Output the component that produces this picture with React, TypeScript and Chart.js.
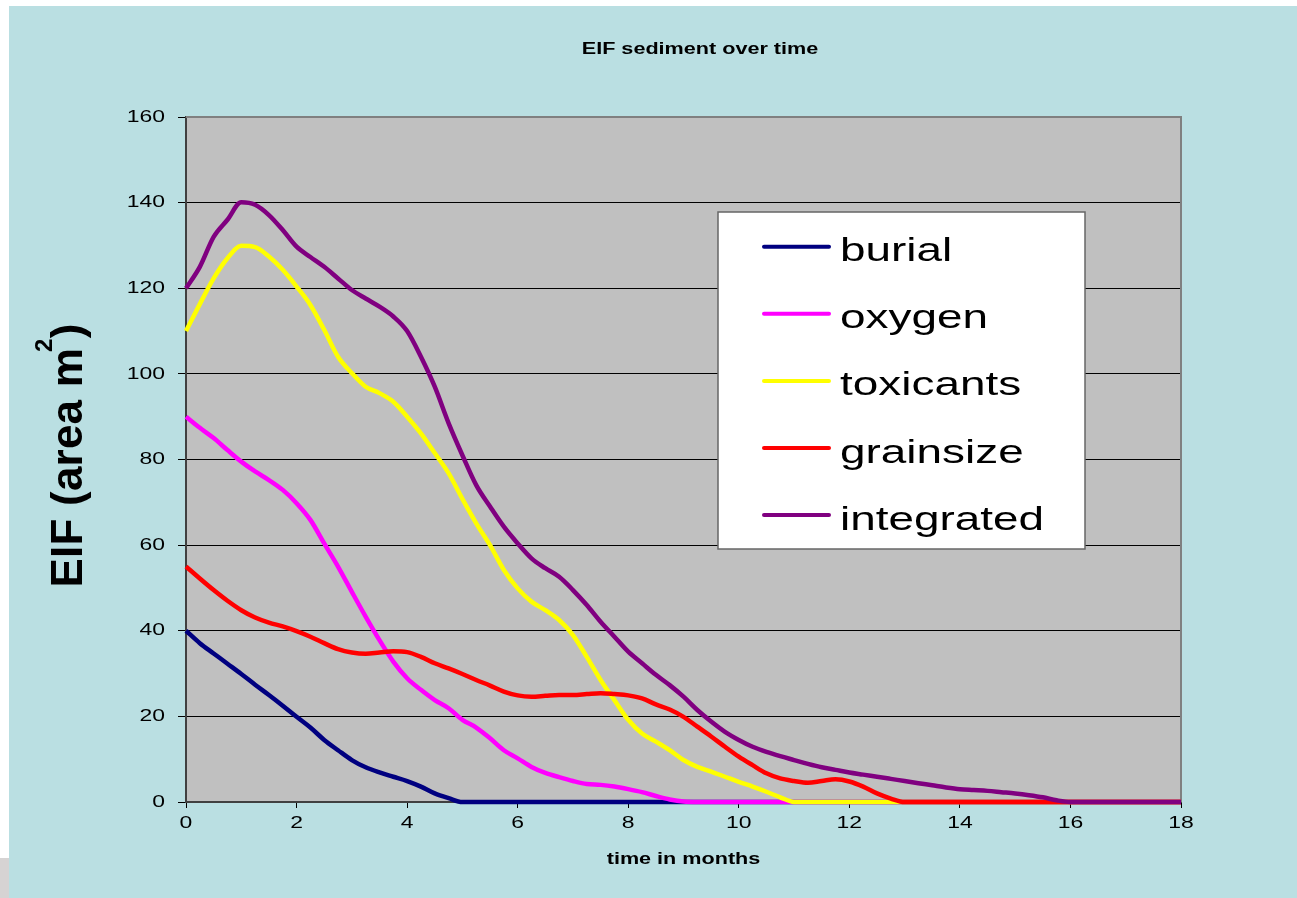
import React, { useEffect, useRef } from 'react';
import { Chart, registerables } from 'chart.js';

Chart.register(...registerables);

const title = 'EIF sediment over time';
const xTitle = 'time in months';
const yTitleMain = 'EIF (area m';
const yTitleSup = '2';
const yTitleEnd = ')';

const xTicks = [0, 2, 4, 6, 8, 10, 12, 14, 16, 18];
const yTicks = [0, 20, 40, 60, 80, 100, 120, 140, 160];

const months = [
  0, 0.25, 0.5, 0.75,
  1, 1.25, 1.5, 1.75,
  2, 2.25, 2.5, 2.75,
  3, 3.25, 3.5, 3.75,
  4, 4.25, 4.5, 4.75,
  5, 5.25, 5.5, 5.75,
  6, 6.25, 6.5, 6.75,
  7, 7.25, 7.5, 7.75,
  8, 8.25, 8.5, 8.75,
  9, 9.25, 9.5, 9.75,
  10, 10.25, 10.5, 10.75,
  11, 11.25, 11.5, 11.75,
  12, 12.25, 12.5, 12.75,
  13, 13.25, 13.5, 13.75,
  14, 14.25, 14.5, 14.75,
  15, 15.25, 15.5, 15.75,
  16, 16.25, 16.5, 16.75,
  17, 17.25, 17.5, 17.75,
  18,
];

const burial = [
  40, 37.1, 34.7, 32.3,
  29.9, 27.4, 25, 22.5,
  19.9, 17.4, 14.5, 12.1,
  9.8, 8.1, 6.9, 5.9,
  4.9, 3.6, 2.0, 0.9,
  0, 0, 0, 0,
  0, 0, 0, 0,
  0, 0, 0, 0,
  0, 0, 0, 0,
  0, 0, 0, 0,
  0, 0, 0, 0,
  0, 0, 0, 0,
  0, 0, 0, 0,
  0, 0, 0, 0,
  0, 0, 0, 0,
  0, 0, 0, 0,
  0, 0, 0, 0,
  0, 0, 0, 0,
  0,
];

const oxygen = [
  90, 87.4, 85, 82.2,
  79.5, 77.2, 75.2, 72.9,
  69.8, 65.9, 60.4, 55,
  49.1, 43.3, 37.8, 32.8,
  28.9, 26.2, 23.8, 21.9,
  19.2, 17.4, 14.9, 12.1,
  10.2, 8.2, 6.8, 5.8,
  4.9, 4.2, 4.0, 3.6,
  3.0, 2.3, 1.4, 0.6,
  0.1, 0, 0, 0,
  0, 0, 0, 0,
  0, 0, 0, 0,
  0, 0, 0, 0,
  0, 0, 0, 0,
  0, 0, 0, 0,
  0, 0, 0, 0,
  0, 0, 0, 0,
  0, 0, 0, 0,
  0,
];

const toxicants = [
  110, 116.3, 122.3, 127,
  129.9, 129.6, 127.4, 124.3,
  120.4, 116.1, 110.3, 104,
  100.2, 97, 95.5, 93.5,
  90, 86.1, 81.5, 76.8,
  70.8, 65.1, 60, 54.2,
  49.9, 46.8, 44.8, 42.5,
  39, 33.9, 28.5, 23.8,
  19.2, 16, 14.1, 12.1,
  9.8, 8.2, 7.1, 5.9,
  4.7, 3.6, 2.4, 1.1,
  0, 0, 0, 0,
  0, 0, 0, 0,
  0, 0, 0, 0,
  0, 0, 0, 0,
  0, 0, 0, 0,
  0, 0, 0, 0,
  0, 0, 0, 0,
  0,
];

const grainsize = [
  55, 52.2, 49.5, 47,
  44.8, 43.1, 41.9, 41,
  39.9, 38.6, 37.1, 35.7,
  34.9, 34.6, 34.9, 35.2,
  35, 33.9, 32.4, 31.2,
  29.9, 28.5, 27.2, 25.8,
  24.9, 24.6, 24.8, 25,
  25, 25.2, 25.4, 25.2,
  24.9, 24.2, 22.8, 21.6,
  19.9, 17.6, 15.3, 12.9,
  10.6, 8.6, 6.7, 5.5,
  4.9, 4.5, 4.9, 5.3,
  4.8, 3.6, 2.0, 0.8,
  0, 0, 0, 0,
  0, 0, 0, 0,
  0, 0, 0, 0,
  0, 0, 0, 0,
  0, 0, 0, 0,
  0,
];

const integrated = [
  120, 125, 132, 136,
  140.1, 139.5, 137.1, 133.6,
  129.7, 127.3, 125, 122.3,
  119.6, 117.6, 115.7, 113.4,
  110, 104, 97, 88.5,
  81, 74, 69, 64.3,
  60.4, 56.9, 54.6, 52.6,
  49.5, 46, 42.1, 38.6,
  35.1, 32.4, 29.7, 27.3,
  24.6, 21.5, 18.8, 16.4,
  14.5, 12.9, 11.7, 10.7,
  9.8, 8.9, 8.1, 7.5,
  6.9, 6.4, 5.9, 5.4,
  4.9, 4.4, 3.9, 3.4,
  3.0, 2.8, 2.6, 2.3,
  2.0, 1.6, 1.1, 0.4,
  0, 0, 0, 0,
  0, 0, 0, 0,
  0,
];

const seriesNames = ['burial', 'oxygen', 'toxicants', 'grainsize', 'integrated'];
const seriesValues = [burial, oxygen, toxicants, grainsize, integrated];
const seriesColors = ['#000080', '#ff00ff', '#ffff00', '#ff0000', '#800080'];
const seriesOrder = [4, 3, 2, 1, 0];

const FONT = '"Liberation Sans", Arial, Helvetica, sans-serif';
const SX = 1.35;
const PAGE_BG = '#badfe2';
const PLOT_BG = '#c0c0c0';

function stretchedText(ctx: CanvasRenderingContext2D, text: string, x: number, y: number,
  align: CanvasTextAlign, baseline: CanvasTextBaseline, font: string) {
  ctx.save();
  ctx.font = font;
  ctx.textAlign = align;
  ctx.textBaseline = baseline;
  ctx.fillStyle = '#000';
  ctx.translate(x, y);
  ctx.scale(SX, 1);
  ctx.fillText(text, 0, 0);
  ctx.restore();
}

const decorPlugin = {
  id: 'decor',
  beforeDraw(chart: any) {
    const { ctx, chartArea: a, width, height } = chart;
    ctx.save();
    ctx.fillStyle = PAGE_BG;
    ctx.fillRect(0, 0, width, height);
    ctx.fillStyle = PLOT_BG;
    ctx.fillRect(a.left, a.top, a.right - a.left, a.bottom - a.top);
    ctx.restore();
  },
  beforeDatasetsDraw(chart: any) {
    const { ctx, chartArea: a } = chart;
    ctx.save();
    ctx.strokeStyle = '#808080';
    ctx.lineWidth = 2;
    ctx.beginPath();
    ctx.moveTo(a.left, a.top);
    ctx.lineTo(a.right, a.top);
    ctx.lineTo(a.right, a.bottom);
    ctx.stroke();
    ctx.restore();
  },
  afterDraw(chart: any) {
    const { ctx, chartArea: a } = chart;
    const xs = chart.scales.x;
    const ys = chart.scales.y;

    yTicks.forEach((v) => {
      stretchedText(ctx, String(v), a.left - 21, ys.getPixelForValue(v), 'right', 'middle', `17px ${FONT}`);
    });
    xTicks.forEach((v) => {
      stretchedText(ctx, String(v), xs.getPixelForValue(v), a.bottom + 21, 'center', 'middle', `17px ${FONT}`);
    });

    stretchedText(ctx, title, 691, 44, 'center', 'middle', `bold 16px ${FONT}`);
    stretchedText(ctx, xTitle, (a.left + a.right) / 2, a.bottom + 58, 'center', 'middle', `bold 16px ${FONT}`);

    ctx.save();
    ctx.fillStyle = '#000';
    ctx.translate(57, (a.top + a.bottom) / 2 - 6);
    ctx.rotate(-Math.PI / 2);
    const mainFont = `bold 44px ${FONT}`;
    const supFont = `bold 24px ${FONT}`;
    ctx.font = mainFont;
    const wMain = ctx.measureText(yTitleMain).width;
    const wEnd = ctx.measureText(yTitleEnd).width;
    ctx.font = supFont;
    const wSup = ctx.measureText(yTitleSup).width;
    const target = 268;
    const nChars = yTitleMain.length + yTitleSup.length + yTitleEnd.length;
    const sp = (target - (wMain + wSup + wEnd)) / nChars;
    (ctx as any).letterSpacing = `${sp}px`;
    ctx.textAlign = 'left';
    ctx.textBaseline = 'alphabetic';
    let x0 = -target / 2;
    const base = 0.358 * 44;
    ctx.font = mainFont;
    ctx.fillText(yTitleMain, x0, base);
    x0 += wMain + sp * yTitleMain.length - 4;
    ctx.font = supFont;
    ctx.fillText(yTitleSup, x0, -14);
    x0 += wSup + sp * yTitleSup.length;
    ctx.font = mainFont;
    ctx.fillText(yTitleEnd, x0, base);
    ctx.restore();

    const bx = 709, by = 206, bw = 367, bh = 337;
    ctx.save();
    ctx.fillStyle = '#ffffff';
    ctx.fillRect(bx, by, bw, bh);
    ctx.strokeStyle = '#666666';
    ctx.lineWidth = 1.5;
    ctx.strokeRect(bx, by, bw, bh);
    chart.data.datasets.forEach((ds: any, i: number) => {
      const ly = 240.7 + i * 67.1;
      ctx.strokeStyle = ds.borderColor;
      ctx.lineWidth = 4;
      ctx.lineCap = 'round';
      ctx.beginPath();
      ctx.moveTo(755, ly);
      ctx.lineTo(820, ly);
      ctx.stroke();
      stretchedText(ctx, ds.label, 831, ly + 14.5, 'left', 'alphabetic', `34px ${FONT}`);
    });
    ctx.restore();
  },
};

export default function App() {
  const canvasRef = useRef<HTMLCanvasElement | null>(null);

  useEffect(() => {
    const canvas = canvasRef.current;
    if (!canvas) return;
    const chart = new Chart(canvas, {
      type: 'line',
      data: {
        datasets: seriesNames.map((name, i) => ({
          label: name,
          data: months.map((m, j) => ({ x: m, y: seriesValues[i][j] })),
          borderColor: seriesColors[i],
          backgroundColor: seriesColors[i],
          borderWidth: 4.5,
          pointRadius: 0,
          pointHoverRadius: 0,
          tension: 0.3,
          cubicInterpolationMode: 'monotone',
          fill: false,
          clip: 6,
          order: seriesOrder[i],
        })),
      },
      options: {
        responsive: false,
        animation: false,
        devicePixelRatio: 1,
        layout: { padding: { left: 0, top: 111, right: 116, bottom: 0 } },
        plugins: {
          legend: { display: false },
          title: { display: false },
          tooltip: { enabled: false },
        },
        events: [],
        scales: {
          x: {
            type: 'linear',
            min: 0,
            max: 18,
            ticks: { display: false, stepSize: 2 },
            grid: {
              drawOnChartArea: false,
              drawTicks: true,
              tickLength: 6,
              tickColor: '#000',
              tickWidth: 1,
            },
            border: { display: true, color: '#404040', width: 2 },
            afterFit: (scale: any) => { scale.height = 96; },
          },
          y: {
            type: 'linear',
            min: 0,
            max: 160,
            ticks: { display: false, stepSize: 20 },
            grid: {
              color: '#000',
              lineWidth: 1,
              drawTicks: true,
              tickLength: 8,
              tickColor: '#000',
              tickWidth: 1,
            },
            border: { display: true, color: '#404040', width: 2 },
            afterFit: (scale: any) => { scale.width = 177; },
          },
        },
      } as any,
      plugins: [decorPlugin],
    });
    return () => chart.destroy();
  }, []);

  return (
    <>
      <div style={{ position: 'absolute', left: 9, top: 6, width: 1288, height: 892 }}>
        <canvas ref={canvasRef} width={1288} height={892} style={{ display: 'block' }} />
      </div>
      <div style={{ position: 'absolute', left: 0, top: 858, width: 9, height: 40, background: '#d6d3d3' }} />
    </>
  );
}
